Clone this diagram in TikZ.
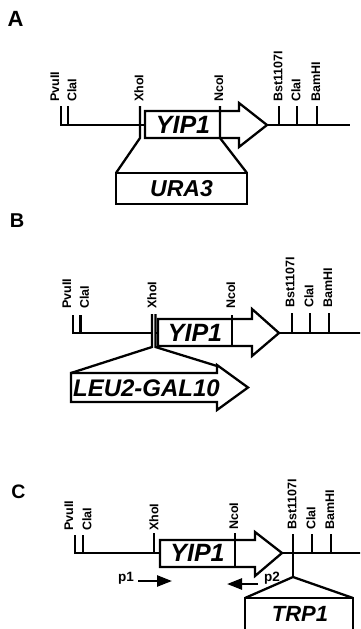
\documentclass[tikz,border=0pt]{standalone}
\usepackage{fontspec}
\setmainfont{Liberation Sans}
\usetikzlibrary{arrows.meta}
\begin{document}
\begin{tikzpicture}[x=1pt,y=-1pt, line width=2.3pt, line join=miter, line cap=butt,
  site/.style={rotate=90, anchor=west, font=\bfseries\fontsize{12.5}{13}\selectfont, inner sep=0pt},
  gene/.style={font=\bfseries\itshape\fontsize{25}{26}\selectfont, inner sep=0pt},
  insert/.style={font=\bfseries\itshape\fontsize{23}{24}\selectfont, inner sep=0pt},
  panel/.style={font=\bfseries\fontsize{20}{22}\selectfont, inner sep=0pt},
  primer/.style={font=\bfseries\fontsize{13.5}{14}\selectfont, inner sep=0pt},
  parrow/.style={line width=2.4pt, -{Triangle[length=15pt,width=11pt]}}]
\useasboundingbox (0,0) rectangle (360,629);
\clip (0,0) rectangle (360,629);

% ---------------- Panel A ----------------
\node[panel,font=\bfseries\fontsize{22}{23}\selectfont] (lA) at (15.5,18.5) {A};
\draw (61,106) -- (61,125) -- (140,125) -- (145,125);
\draw (68,106) -- (68,125);
\draw (140,106) -- (140,138) -- (116,173);
\draw (145,111) -- (239,111) -- (239,103) -- (267,125) -- (239,147) -- (239,138) -- (145,138) -- cycle;
\draw (220,106) -- (220,138) -- (247,173);
\draw (116,173) rectangle (247,204);
\draw (267,125) -- (350,125);
\foreach \x in {279,297,317} \draw (\x,106) -- (\x,125);
\node[gene] (yA) at (183,125) {YIP1};
\node[insert] (uA) at (181.5,189) {URA3};
\node[site] (a1) at (55,103) {PvuII};
\node[site] (a2) at (72,103) {ClaI};
\node[site] (a3) at (139,103) {XhoI};
\node[site] (a4) at (219,103) {NcoI};
\node[site] (a5) at (278,103) {Bst1107I};
\node[site] (a6) at (296,103) {ClaI};
\node[site] (a7) at (316,103) {BamHI};

% ---------------- Panel B ----------------
\node[panel,font=\bfseries\fontsize{20}{21}\selectfont] (lB) at (17,221) {B};
\draw (73,315) -- (73,333) -- (152,333);
\draw (80.5,315) -- (80.5,333);
\draw (152,314) -- (152,347) -- (71,373);
\draw (155.5,314) -- (155.5,347) -- (217,366);
\draw (155.5,333) -- (158,333);
\draw (158,319) -- (252,319) -- (252,309) -- (279,333) -- (252,356) -- (252,346) -- (158,346) -- cycle;
\draw (232,315) -- (232,346);
\draw (279,333) -- (362,333);
\foreach \x in {292,310,329} \draw (\x,313) -- (\x,333);
\draw (71,373) -- (217,373) -- (217,365) -- (248,387.5) -- (217,410) -- (217,402) -- (71,402) -- cycle;
\node[gene] (yB) at (195,333) {YIP1};
\node[insert,font=\bfseries\itshape\fontsize{24}{25}\selectfont,anchor=west] (uB) at (72,388) {LEU2-GAL10};
\node[site] (b1) at (67,310) {PvuII};
\node[site] (b2) at (84.5,310) {ClaI};
\node[site] (b3) at (152,310) {XhoI};
\node[site] (b4) at (231,310) {NcoI};
\node[site] (b5) at (290,309) {Bst1107I};
\node[site] (b6) at (309,309) {ClaI};
\node[site] (b7) at (328,309) {BamHI};

% ---------------- Panel C ----------------
\node[panel,font=\bfseries\fontsize{19.5}{20}\selectfont] (lC) at (18.5,491.5) {C};
\draw (75,535) -- (75,553) -- (160,553);
\draw (83,535) -- (83,553);
\draw (154,533) -- (154,553);
\draw (160,540) -- (255,540) -- (255,532) -- (282,553) -- (255,576) -- (255,567) -- (160,567) -- cycle;
\draw (235,533) -- (235,567);
\draw (282,553) -- (362,553);
\draw (293,534) -- (293,577);
\draw (245,598) -- (293,577) -- (353,598);
\draw (245,598) rectangle (353,640);
\foreach \x in {312,331} \draw (\x,534) -- (\x,553);
\node[gene] (yC) at (197.5,553) {YIP1};
\node[insert,font=\bfseries\itshape\fontsize{22}{23}\selectfont] (uC) at (300,614) {TRP1};
\node[site] (c1) at (69,532) {PvuII};
\node[site] (c2) at (87,532) {ClaI};
\node[site] (c3) at (154,532) {XhoI};
\node[site] (c4) at (234,531) {NcoI};
\node[site] (c5) at (292,531) {Bst1107I};
\node[site] (c6) at (311,531) {ClaI};
\node[site] (c7) at (330,531) {BamHI};
\node[primer] (p1) at (126,578) {p1};
\coordinate (p1s) at (138,581);
\coordinate (p1e) at (172,581);
\draw[parrow] (p1s) -- (p1e);
\node[primer] (p2) at (272,578) {p2};
\coordinate (p2s) at (258,584);
\coordinate (p2e) at (227,584);
\draw[parrow] (p2s) -- (p2e);
\end{tikzpicture}
\end{document}
